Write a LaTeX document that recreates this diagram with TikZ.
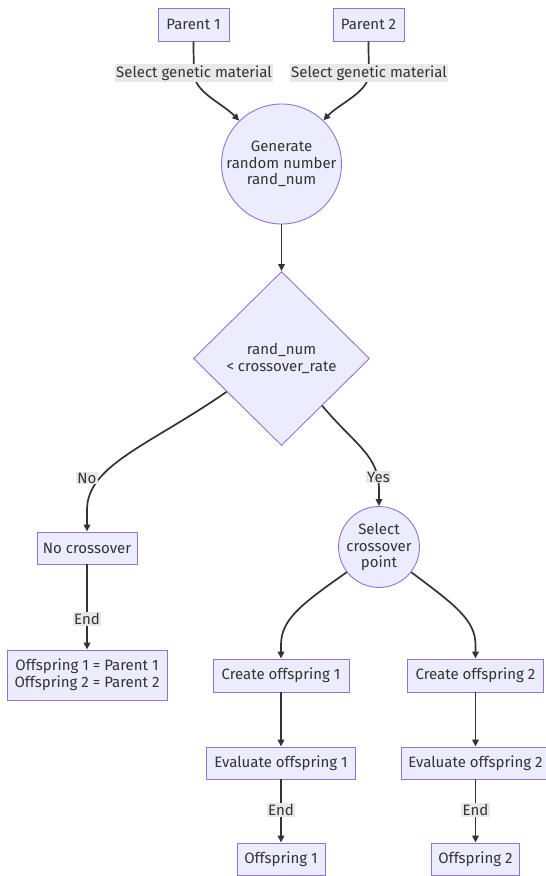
\documentclass[tikz,border=0pt]{standalone}
\usepackage{fontspec}
\setmainfont{Fira Sans}
\usetikzlibrary{shapes.geometric,arrows.meta,calc}
\definecolor{nodefill}{HTML}{ECECFF}
\definecolor{nodeline}{HTML}{9370DB}
\definecolor{ink}{HTML}{333333}
\definecolor{lblbg}{HTML}{E8E8E8}
\begin{document}
\begin{tikzpicture}[x=1pt,y=-1pt,
  font=\fontsize{15}{16.8}\selectfont,
  box/.style={draw=nodeline, fill=nodefill, line width=0.9pt, text=ink,
    inner sep=0pt, align=center},
  rect/.style={box, rectangle},
  circ/.style={box, circle, minimum size=#1},
  edge/.style={draw=ink, line width=1.7pt, -{Triangle[length=7pt,width=6.5pt]}},
  lbl/.style={fill=lblbg, text=ink, inner sep=1.2pt}
]
\useasboundingbox (0,0) rectangle (546,876);
\clip (0,0) rectangle (546,876);

% nodes
\node[rect, minimum width=71pt, minimum height=33pt] (p1) at (193.5,24.5) {Parent 1};
\node[rect, minimum width=71pt, minimum height=33pt] (p2) at (368.5,24.5) {Parent 2};
\node[circ=120pt] (g) at (281.5,164) {Generate\\random number\\rand\_num};
\node[box, diamond, minimum width=176pt, minimum height=174pt] (d) at (281.5,358.5)
  {rand\_num\\< crossover\_rate};
\node[rect, minimum width=100pt, minimum height=32pt] (nc) at (87,548) {No crossover};
\node[circ=78pt] (s) at (379,547) {Select\\crossover\\point};
\node[rect, minimum width=160pt, minimum height=50pt] (op) at (87,675)
  {Offspring 1 = Parent 1\\Offspring 2 = Parent 2};
\node[rect, minimum width=136pt, minimum height=33pt] (c1) at (281,675.5) {Create offspring 1};
\node[rect, minimum width=136pt, minimum height=33pt] (c2) at (475.5,675.5) {Create offspring 2};
\node[rect, minimum width=149pt, minimum height=32pt] (e1) at (281,763) {Evaluate offspring 1};
\node[rect, minimum width=149pt, minimum height=32pt] (e2) at (475.5,763) {Evaluate offspring 2};
\node[rect, minimum width=88pt, minimum height=32pt] (o1) at (281,859) {Offspring 1};
\node[rect, minimum width=88pt, minimum height=32pt] (o2) at (475.5,859) {Offspring 2};

% label anchors
\coordinate (m1) at (194,73);
\coordinate (m2) at (369,73);
\coordinate (mno) at (87,478);
\coordinate (myes) at (378.5,477);
\coordinate (mend0) at (87,619);
\coordinate (mend1) at (281,810);
\coordinate (mend2) at (475.5,810);

% connectors
\draw[edge] (p1.south) .. controls (193.5,58) and (194,64) .. (m1)
  .. controls (194,92) and (222,103) .. (g);
\draw[edge] (p2.south) .. controls (368.5,58) and (369,64) .. (m2)
  .. controls (369,92) and (340,103) .. (g);
\draw[edge] (g) -- (d);
\draw[edge] ($(d.west)!0.38!(d.south)$) .. controls (150,445) and (87,465) .. (87,510) -- (nc.north);
\draw[edge] ($(d.east)!0.54!(d.south)$) .. controls (355,445) and (379,455) .. (379,490) -- (s.north);
\draw[edge] (s.218) .. controls (300,605) and (281,620) .. (281,645) -- (c1.north);
\draw[edge] (s.-38) .. controls (455,605) and (475.5,620) .. (475.5,645) -- (c2.north);
\draw[edge] (nc) -- (op);
\draw[edge] (c1) -- (e1);
\draw[edge] (c2) -- (e2);
\draw[edge] (e1) -- (o1);
\draw[edge] (e2) -- (o2);

% edge labels
\node[lbl] (l1) at (m1) {Select genetic material};
\node[lbl] (l2) at (m2) {Select genetic material};
\node[lbl] (lno) at (mno) {No};
\node[lbl] (lyes) at (myes) {Yes};
\node[lbl] (lend0) at (mend0) {End};
\node[lbl] (lend1) at (mend1) {End};
\node[lbl] (lend2) at (mend2) {End};
\end{tikzpicture}
\end{document}
